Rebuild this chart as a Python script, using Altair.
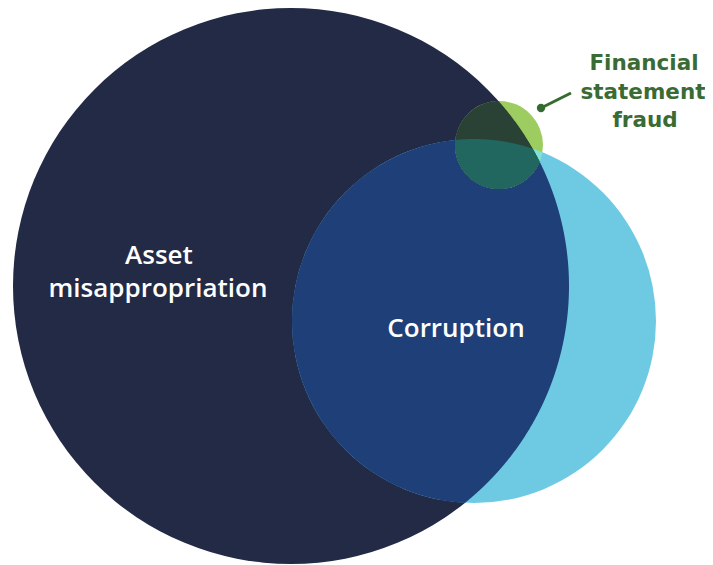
import altair as alt
import numpy as np
import pandas as pd

# --- Venn sets (positions in picture pixels) ---
set_keys = ["A", "B", "G"]
set_names = ["Asset misappropriation", "Corruption", "Financial statement fraud"]
center_x = [291, 474, 499]
center_y = [286, 321, 145]
radius = [278, 182, 44]
set_colors = ["#232a45", "#6ecae3", "#9dcd60"]

# overlap regions and their colours
region_members = [["A", "B"], ["G", "B"], ["G", "A"], ["G", "A", "B"]]
region_colors = ["#1f3f78", "#80e2d4", "#2a4136", "#21665f"]

# label lines
line_text = ["Asset", "misappropriation", "Corruption", "Financial", "statement", "fraud"]
line_x = [159, 158, 456, 644, 643, 645]
line_y = [256, 289, 329, 64, 93, 121]
line_color = ["#ffffff", "#ffffff", "#ffffff", "#3a6b34", "#3a6b34", "#3a6b34"]
line_size = [26, 26, 26, 21.5, 21.5, 21.5]
line_font = ["Open Sans", "Open Sans", "Open Sans", "DejaVu Sans", "DejaVu Sans", "DejaVu Sans"]

# leader line for the small set
leader_x = [541, 571]
leader_y = [108, 93]
leader_color = "#356a30"

W, H = 697, 557
ORIGIN = 8
xs = alt.Scale(domain=[ORIGIN, ORIGIN + W], nice=False, zero=False)
ys = alt.Scale(domain=[ORIGIN, ORIGIN + H], nice=False, zero=False, reverse=True)

idx = {k: i for i, k in enumerate(set_keys)}


def region_polygon(members, n=2880):
    px_all, py_all = [], []
    for k in members:
        i = idx[k]
        t = np.linspace(0, 2 * np.pi, n, endpoint=False)
        px = center_x[i] + radius[i] * np.cos(t)
        py = center_y[i] + radius[i] * np.sin(t)
        ok = np.ones(n, dtype=bool)
        for o in members:
            if o == k:
                continue
            j = idx[o]
            ok &= (px - center_x[j]) ** 2 + (py - center_y[j]) ** 2 <= radius[j] ** 2 + 1e-6
        px_all.append(px[ok])
        py_all.append(py[ok])
    px = np.concatenate(px_all)
    py = np.concatenate(py_all)
    mx, my = px.mean(), py.mean()
    order = np.argsort(np.arctan2(py - my, px - mx))
    return px[order], py[order]


# Vega symbol "size" for a circle is the square of its diameter
circles = pd.DataFrame({
    "set": set_names,
    "key": set_keys,
    "cx": center_x,
    "cy": center_y,
    "size": [(2 * r) ** 2 for r in radius],
    "color": set_colors,
    "o": list(range(len(set_keys))),
})

rows = []
for members, col in zip(region_members, region_colors):
    px, py = region_polygon(members)
    name = "&".join(members)
    for k, (a, b) in enumerate(zip(px, py)):
        rows.append({"region": name, "px": a, "py": b, "i": k, "color": col})
regions = pd.DataFrame(rows)


def circle_layer(keys):
    d = circles[circles["key"].isin(keys)]
    return alt.Chart(d).mark_circle(opacity=1, strokeWidth=0).encode(
        x=alt.X("cx:Q", scale=xs, axis=None),
        y=alt.Y("cy:Q", scale=ys, axis=None),
        size=alt.Size("size:Q", scale=None, legend=None),
        color=alt.Color("color:N", scale=None, legend=None),
        order=alt.Order("o:Q"),
    )


def region_layer(names):
    d = regions[regions["region"].isin(names)]
    return alt.Chart(d).mark_line(filled=True, interpolate="linear-closed", strokeWidth=0).encode(
        x=alt.X("px:Q", scale=xs, axis=None),
        y=alt.Y("py:Q", scale=ys, axis=None),
        color=alt.Color("color:N", scale=None, legend=None),
        detail="region:N",
        order=alt.Order("i:Q"),
    )


labels = pd.DataFrame({
    "text": line_text, "lx": line_x, "ly": line_y,
    "color": line_color, "fs": line_size, "font": line_font,
})


def text_layer(font, weight):
    d = labels[labels["font"] == font]
    return alt.Chart(d).mark_text(
        font=font, fontWeight=weight, align="center", baseline="middle",
    ).encode(
        x=alt.X("lx:Q", scale=xs, axis=None),
        y=alt.Y("ly:Q", scale=ys, axis=None),
        text="text:N",
        color=alt.Color("color:N", scale=None, legend=None),
        size=alt.Size("fs:Q", scale=None, legend=None),
    )


leader = pd.DataFrame({"lx": leader_x, "ly": leader_y, "i": [0, 1]})
leader_line = alt.Chart(leader).mark_line(color=leader_color, strokeWidth=3).encode(
    x=alt.X("lx:Q", scale=xs, axis=None),
    y=alt.Y("ly:Q", scale=ys, axis=None),
    order="i:Q",
)
leader_dot = alt.Chart(leader.iloc[[0]]).mark_circle(color=leader_color, size=70, opacity=1).encode(
    x=alt.X("lx:Q", scale=xs, axis=None),
    y=alt.Y("ly:Q", scale=ys, axis=None),
)

chart = alt.layer(
    circle_layer(["A", "B"]),
    region_layer(["A&B"]),
    circle_layer(["G"]),
    region_layer(["G&B"]),
    region_layer(["G&A"]),
    region_layer(["G&A&B"]),
    leader_line,
    leader_dot,
    text_layer("Open Sans", 600),
    text_layer("DejaVu Sans", "bold"),
).properties(
    width=W, height=H, padding=0, autosize="none",
).configure_view(stroke=None)

chart.save("out.html", embed_options={"renderer": "svg", "actions": False})
